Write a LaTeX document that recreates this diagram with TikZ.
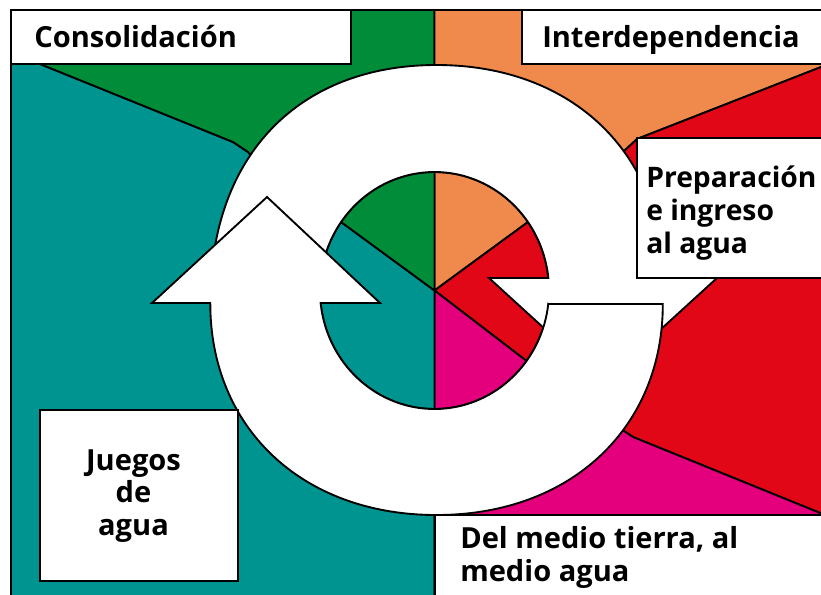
\documentclass[tikz,border=0pt]{standalone}
\usepackage{fontspec}
\setmainfont{Open Sans}
\usetikzlibrary{calc}
\definecolor{cteal}{RGB}{0,148,144}
\definecolor{cgreen}{RGB}{0,140,56}
\definecolor{corange}{RGB}{240,137,76}
\definecolor{cred}{RGB}{226,7,22}
\definecolor{cmagenta}{RGB}{228,0,125}
\begin{document}
\begin{tikzpicture}[x=0.75pt,y=0.75pt,yscale=-1,
  region/.style={draw=black, line width=1.4pt, line join=round},
  arrowshape/.style={fill=white, draw=black, line width=1.4pt},
  labelbox/.style={fill=white, draw=black, line width=1.5pt},
  lbl/.style={inner sep=0pt, font=\bfseries\fontsize{21.8}{24.6}\selectfont},
  lblnarrow/.style={inner sep=0pt, font=\bfseries\fontsize{21.2}{24.6}\selectfont}]
\useasboundingbox (0,0) rectangle (821,594);
\clip (0,0) rectangle (821,594);
\coordinate (C) at (434.5,290.5);
\coordinate (I) at (434.5,290.5);
% background regions
\filldraw[region, fill=cteal] (C) -- (255,160) -- (248,152) -- (233,142) -- (40,64) -- (11,64) -- (11,600) -- (434.5,600) -- cycle;
\filldraw[region, fill=cgreen] (C) -- (255,160) -- (248,152) -- (233,142) -- (40,64) -- (40,10) -- (434.5,10) -- cycle;
\filldraw[region, fill=corange] (C) -- (434.5,10) -- (830,10) -- (830,63.5) -- (637,139) -- (622,153) -- cycle;
\filldraw[region, fill=cred] (C) -- (622,153) -- (637,139) -- (830,63.5) -- (830,517) -- (633,437) -- (621,429) -- cycle;
\filldraw[region, fill=cmagenta] (C) -- (621,429) -- (633,437) -- (830,517) -- (830,600) -- (434.5,600) -- cycle;
% inner pie
\filldraw[region, fill=corange] (I) -- ++(270:114.5 and 118.5) arc[start angle=270, end angle=324.7, x radius=114.5, y radius=118.5] -- cycle;
\filldraw[region, fill=cred] (I) -- ++(324.7:114.5 and 118.5) arc[start angle=324.7, end angle=396.5, x radius=114.5, y radius=118.5] -- cycle;
\filldraw[region, fill=cmagenta] (I) -- ++(36.5:114.5 and 118.5) arc[start angle=36.5, end angle=90, x radius=114.5, y radius=118.5] -- cycle;
\filldraw[region, fill=cteal] (I) -- ++(90:114.5 and 118.5) arc[start angle=90, end angle=215.3, x radius=114.5, y radius=118.5] -- cycle;
\filldraw[region, fill=cgreen] (I) -- ++(215.3:114.5 and 118.5) arc[start angle=215.3, end angle=270, x radius=114.5, y radius=118.5] -- cycle;
% upper arrow (head on the right, pointing down)
\filldraw[arrowshape] (210.3,303) .. controls (210,154.3) and (299.9,65) .. (436.5,65)
  .. controls (573.1,65) and (663,154.3) .. (662.8,278) -- (717,278) -- (603,382) -- (489,278) -- (548.36,278)
  arc[start angle=353.945, end angle=173.945, x radius=114.5, y radius=118.5] -- cycle;
% lower arrow (head on the left, pointing up)
\filldraw[arrowshape] (548.25,304) -- (662.8,304) .. controls (663,425.7) and (573.1,515) .. (436.5,515)
  .. controls (299.9,515) and (210,425.7) .. (210.3,303) -- (152,303) -- (267,197) -- (380,303) -- (320.64,303)
  arc[start angle=173.945, end angle=6.541, x radius=114.5, y radius=118.5] -- cycle;
% label boxes
\draw[labelbox] (11,10) rectangle (351,64);
\draw[labelbox] (522,10) rectangle (830,64);
\draw[labelbox] (637,137.5) rectangle (830,278);
\draw[labelbox] (40,410) rectangle (238,581);
\draw[labelbox] (434.5,515) rectangle (830,600);
% texts
\node[lbl, anchor=base west] (tcons) at (34,47) {Consolidación};
\node[lbl, anchor=base west] (tinter) at (542,47) {Interdependencia};
\node[lblnarrow, anchor=base west] (tprep) at (646,187.5) {\begin{tabular}[t]{@{}l@{}}Preparación\\e ingreso\\al agua\end{tabular}};
\node[lbl, anchor=base] (tjue) at (133.5,470) {\begin{tabular}[t]{@{}c@{}}Juegos\\de\\agua\end{tabular}};
\node[lbl, anchor=base west] (tdel) at (460,548.5) {\begin{tabular}[t]{@{}l@{}}Del medio tierra, al\\medio agua\end{tabular}};
% frame
\draw[line width=1.5pt] (11,10) rectangle (830,600);
\end{tikzpicture}
\end{document}
